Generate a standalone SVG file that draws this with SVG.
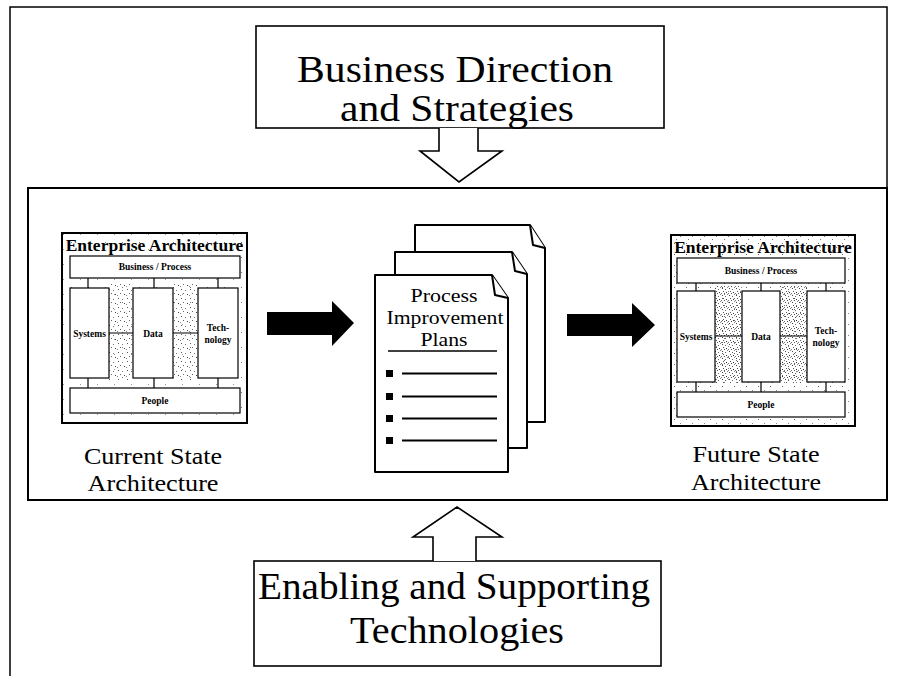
<svg xmlns="http://www.w3.org/2000/svg" width="899" height="676" viewBox="0 0 899 676">
<defs>
<pattern id="spk" width="17" height="15" patternUnits="userSpaceOnUse">
<rect x="3" y="2" width="1" height="1" fill="#777"/>
<rect x="12" y="9" width="1" height="1" fill="#999"/>
</pattern>
<pattern id="spk2" width="9" height="9" patternUnits="userSpaceOnUse">
<rect x="1" y="1" width="1" height="1" fill="#555"/>
<rect x="5" y="2" width="1" height="1" fill="#777"/>
<rect x="3" y="5" width="1" height="1" fill="#666"/>
<rect x="7" y="6" width="1" height="1" fill="#444"/>
<rect x="0" y="7" width="1" height="1" fill="#888"/>
</pattern>
<pattern id="spk3" width="7" height="7" patternUnits="userSpaceOnUse">
<rect x="1" y="1" width="1" height="1" fill="#444"/>
<rect x="4" y="2" width="1" height="1" fill="#666"/>
<rect x="2" y="4" width="1" height="1" fill="#555"/>
<rect x="5" y="5" width="1" height="1" fill="#333"/>
<rect x="0" y="6" width="1" height="1" fill="#777"/>
<rect x="6" y="0" width="1" height="1" fill="#888"/>
<rect x="3" y="6" width="1" height="1" fill="#555"/>
</pattern>
<pattern id="spk4" width="12" height="11" patternUnits="userSpaceOnUse">
<rect x="2" y="1" width="1" height="1" fill="#666"/>
<rect x="8" y="5" width="1" height="1" fill="#888"/>
<rect x="4" y="8" width="1" height="1" fill="#777"/>
</pattern>
</defs>
<style>
.ln{fill:none;stroke:#000}
.box{fill:#fff;stroke:#000;stroke-width:1.6}
.big{font-family:"Liberation Serif","Times New Roman",serif;fill:#000;text-anchor:middle}
.cap{font-family:"Liberation Serif","Times New Roman",serif;font-size:24px;fill:#000;text-anchor:middle}
.eat{font-family:"Liberation Serif","Times New Roman",serif;font-weight:bold;font-size:17.5px;fill:#000;text-anchor:middle}
.sm{font-family:"Liberation Serif","Times New Roman",serif;font-weight:bold;font-size:9.5px;fill:#000;text-anchor:middle}
.cell{fill:#fff;stroke:#000;stroke-width:1.2}
.page{fill:#fff;stroke:#000;stroke-width:2;stroke-linejoin:round}
.doc{font-family:"Liberation Serif","Times New Roman",serif;font-size:19px;fill:#000;text-anchor:middle}
</style>

<g id="page-border">
<path class="ln" stroke-width="1.5" d="M10,676 V7 H887 V188"/>
</g>

<g id="current-future-frame">
<rect x="28" y="188" width="859" height="312" fill="none" stroke="#000" stroke-width="2"/>
</g>

<g id="business-direction">
<rect class="box" x="256" y="26" width="408" height="102"/>
<text class="big" font-size="37" x="455" y="82" textLength="316" lengthAdjust="spacingAndGlyphs">Business Direction</text>
<text class="big" font-size="37" x="457" y="121" textLength="234" lengthAdjust="spacingAndGlyphs">and Strategies</text>
</g>

<g id="enabling-technologies">
<rect class="box" x="254" y="561" width="407" height="105"/>
<text class="big" font-size="37" x="454" y="599" textLength="392" lengthAdjust="spacingAndGlyphs">Enabling and Supporting</text>
<text class="big" font-size="37" x="457" y="643" textLength="214" lengthAdjust="spacingAndGlyphs">Technologies</text>
</g>

<g id="current-state">
<rect x="62" y="233" width="185" height="190" fill="url(#spk)" stroke="#000" stroke-width="2"/>
<rect x="109" y="284" width="24" height="96" fill="url(#spk2)"/>
<rect x="173" y="284" width="25" height="96" fill="url(#spk2)"/>
<text class="eat" x="154.5" y="251">Enterprise Architecture</text>
<rect class="cell" x="70" y="256" width="170" height="22"/>
<text class="sm" x="155" y="270">Business / Process</text>
<path class="ln" stroke-width="1.2" d="M88,278 V288 M154,278 V288 M218,278 V288 M88,378 V388 M154,378 V388 M218,378 V388 M109,333 H133 M173,333 H198"/>
<rect class="cell" x="70" y="288" width="39" height="90"/>
<text class="sm" x="89.5" y="337">Systems</text>
<rect class="cell" x="133" y="288" width="40" height="90"/>
<text class="sm" x="153" y="337">Data</text>
<rect class="cell" x="198" y="288" width="40" height="90"/>
<text class="sm" x="218" y="331">Tech-</text>
<text class="sm" x="218" y="343">nology</text>
<rect class="cell" x="70" y="388" width="170" height="25"/>
<text class="sm" x="155" y="404">People</text>
<text class="cap" x="153" y="464" textLength="138" lengthAdjust="spacingAndGlyphs">Current State</text>
<text class="cap" x="153" y="491" textLength="131" lengthAdjust="spacingAndGlyphs">Architecture</text>
</g>

<g id="future-state">
<rect x="671" y="235" width="184" height="191" fill="url(#spk4)" stroke="#000" stroke-width="2"/>
<rect x="715" y="286" width="27" height="97" fill="url(#spk3)"/>
<rect x="780" y="286" width="27" height="97" fill="url(#spk3)"/>
<text class="eat" x="763" y="253">Enterprise Architecture</text>
<rect class="cell" x="677" y="258" width="168" height="25"/>
<text class="sm" x="761" y="274">Business / Process</text>
<path class="ln" stroke-width="1.2" d="M696,283 V291 M761,283 V291 M826,283 V291 M696,382 V392 M761,382 V392 M826,382 V392 M715,336 H742 M780,336 H807"/>
<rect class="cell" x="677" y="291" width="38" height="91"/>
<text class="sm" x="696" y="340">Systems</text>
<rect class="cell" x="742" y="291" width="38" height="91"/>
<text class="sm" x="761" y="340">Data</text>
<rect class="cell" x="807" y="291" width="38" height="91"/>
<text class="sm" x="826" y="334">Tech-</text>
<text class="sm" x="826" y="346">nology</text>
<rect class="cell" x="677" y="392" width="168" height="25"/>
<text class="sm" x="761" y="408">People</text>
<text class="cap" x="756" y="462" textLength="127" lengthAdjust="spacingAndGlyphs">Future State</text>
<text class="cap" x="756" y="490" textLength="130" lengthAdjust="spacingAndGlyphs">Architecture</text>
</g>

<g id="process-improvement-plans">
<path class="page" d="M415,225 H530 L545,248 V422 H415 Z"/>
<path class="page" d="M530,225 L533,245 L545,248"/>
<path class="page" d="M395,252 H512 L527,274 V448 H395 Z"/>
<path class="page" d="M512,252 L515,271 L527,274"/>
<path class="page" d="M375,275 H492 L508,298 V472 H375 Z"/>
<path class="page" d="M492,275 L495,295 L508,298"/>
<text class="doc" x="444" y="302" textLength="67" lengthAdjust="spacingAndGlyphs">Process</text>
<text class="doc" x="445" y="324" textLength="117" lengthAdjust="spacingAndGlyphs">Improvement</text>
<text class="doc" x="444" y="346" textLength="47" lengthAdjust="spacingAndGlyphs">Plans</text>
<path class="ln" stroke-width="1.5" d="M388,351 H497"/>
<g fill="#000">
<rect x="386" y="370" width="7" height="7"/>
<rect x="386" y="393" width="7" height="7"/>
<rect x="386" y="415" width="7" height="7"/>
<rect x="386" y="437" width="7" height="7"/>
</g>
<path class="ln" stroke-width="2" stroke="#222" d="M402,373.5 H497 M402,396.5 H497 M402,418.5 H497 M402,440.5 H497"/>
</g>

<g id="connectors">
<path class="box" d="M439,128 V151 H420 L459,182 L502,151 H478 V128"/>
<path class="box" d="M433,561 V537 H413 L457,507 L502,537 H476 V561"/>
<path fill="#000" d="M267,312 H332 V301 L354,323 L332,346 V335 H267 Z"/>
<path fill="#000" d="M567,314 H632 V303 L655,325 L632,347 V336 H567 Z"/>
</g>
</svg>
